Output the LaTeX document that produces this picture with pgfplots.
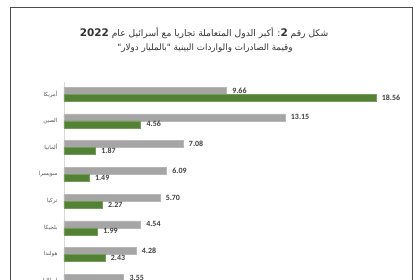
\documentclass[border=0pt]{standalone}
\usepackage{pgfplots}
\pgfplotsset{compat=1.18}
\usepackage{fontspec}
\setmainfont{Carlito}
\newfontfamily\arabicfont[Script=Arabic]{DejaVu Sans}
\TeXXeTstate=1
\definecolor{grayb}{HTML}{A5A5A5}
\definecolor{greenb}{HTML}{548235}
\definecolor{lbl}{HTML}{404040}
\newcommand{\ar}[1]{{\arabicfont\beginR #1\endR}}
\begin{document}
\begin{tikzpicture}[x=1bp,y=1bp]
\path[use as bounding box] (0,0) rectangle (420,280);
\clip (0,0) rectangle (420,280);
\fill[white] (0,0) rectangle (420,280);
\draw[color=black!70, line width=0.9bp] (10,-10) rectangle (412,273);
\node[font=\arabicfont\fontsize{9.2}{10}\selectfont, text=black!80] at (204,247)
  {\beginR شكل رقم \beginL{\bfseries\fontsize{10.5}{11}\selectfont 2}\endL: أكبر الدول المتعاملة تجاريا مع أسرائيل عام \beginL{\bfseries\fontsize{10.5}{11}\selectfont 2022}\endL\endR};
\node[font=\arabicfont\fontsize{8.8}{10}\selectfont, text=black!80] at (205,232)
  {\beginR وقيمة الصادرات والواردات البينية "بالمليار دولار"\endR};
\begin{axis}[
  at={(64bp,198bp)}, anchor=north west,
  scale only axis, width=336bp, height=214bp,
  xmin=0, xmax=20, ymin=-0.45, ymax=7.55,
  y dir=reverse,
  xbar, bar width=7bp,
  hide x axis,
  axis y line*=left,
  y axis line style={draw=black!15, line width=0.8bp},
  ytick={0,...,7},
  yticklabels={\ar{أمريكا},\ar{الصين},\ar{ألمانيا},\ar{سويسرا},\ar{تركيا},\ar{بلجيكا},\ar{هولندا},\ar{إيطاليا}},
  yticklabel style={font=\fontsize{5.6}{6}\selectfont, text=black!65, xshift=-3bp},
  major tick length=0pt,
  clip=false,
  /pgf/number format/assume math mode=true,
  nodes near coords,
  nodes near coords style={font=\bfseries\fontsize{8}{9}\selectfont, text=lbl, anchor=west, xshift=2.5bp,
    /pgf/number format/.cd, fixed, fixed zerofill, precision=2},
]
\addplot[fill=grayb, draw=grayb!80, bar shift=3.5bp] coordinates {
  (9.66,0) (13.15,1) (7.08,2) (6.09,3) (5.70,4) (4.54,5) (4.28,6) (3.55,7)};
\addplot[fill=greenb, draw=greenb!80, bar shift=-3.5bp] coordinates {
  (18.56,0) (4.56,1) (1.87,2) (1.49,3) (2.27,4) (1.99,5) (2.43,6)};
\end{axis}
\end{tikzpicture}
\end{document}
